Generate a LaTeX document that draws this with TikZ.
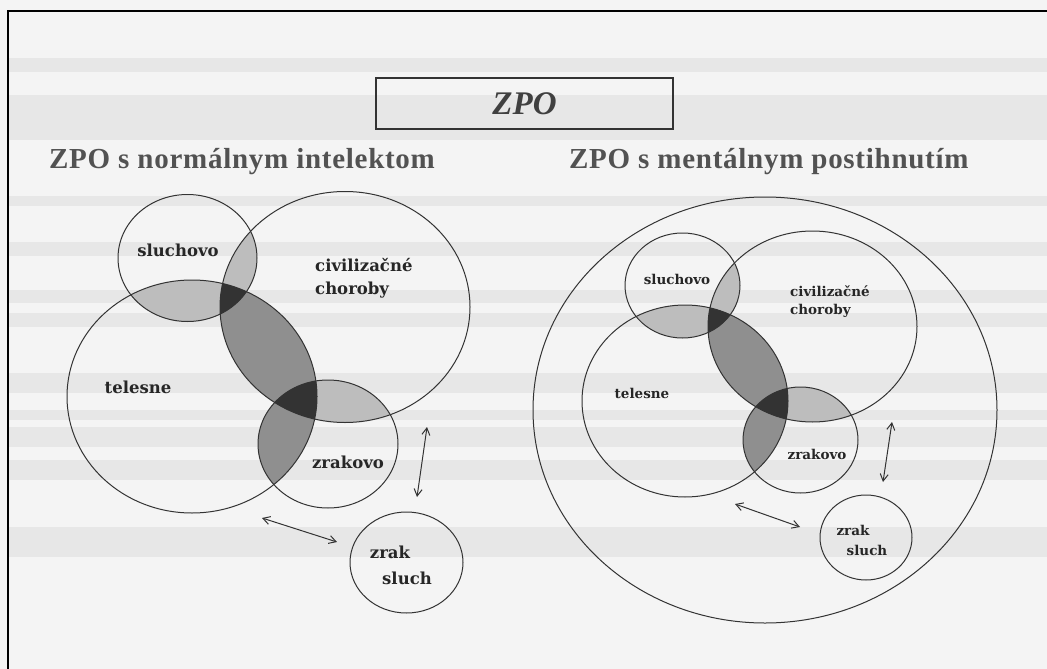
\documentclass[tikz,border=0pt]{standalone}
\usepackage{fontspec}
\setmainfont{Liberation Serif}
\newfontfamily\lblfont{DejaVu Serif}
\newfontfamily\headfont[LetterSpace=2.5]{Liberation Serif}
\usetikzlibrary{arrows.meta}
\definecolor{bgcol}{gray}{0.955}
\definecolor{bandcol}{gray}{0.905}
\definecolor{inkcol}{gray}{0.2}
\definecolor{lightsh}{gray}{0.74}
\definecolor{midsh}{gray}{0.56}
\definecolor{darksh}{gray}{0.2}
\tikzset{
  ring/.style={draw=inkcol, line width=1pt},
  biglbl/.style={font=\lblfont\bfseries\fontsize{16.5}{18}\selectfont, text=black!85, inner sep=0pt},
  smalllbl/.style={font=\lblfont\bfseries\fontsize{13.5}{15}\selectfont, text=black!85, inner sep=0pt},
  heading/.style={font=\headfont\bfseries\fontsize{29}{31}\selectfont, text=black!68, inner sep=0pt, anchor=base west},
  twoway/.style={draw=inkcol, line width=1pt, {Straight Barb[length=7pt,width=8pt]}-{Straight Barb[length=7pt,width=8pt]}}
}
% left diagram shapes
\newcommand\elLS{(187.5,258) ellipse [x radius=69.5, y radius=63.5]}
\newcommand\elLC{(345,307) ellipse [x radius=125, y radius=115.5]}
\newcommand\elLT{(192,396.5) ellipse [x radius=125, y radius=116.5]}
\newcommand\elLZ{(328,444) ellipse [x radius=70, y radius=64]}
\newcommand\elLX{(406.5,562.5) ellipse [x radius=56.5, y radius=50.5]}
% right diagram shapes
\newcommand\elRO{(765,410) ellipse [x radius=232, y radius=213]}
\newcommand\elRS{(682.5,285.5) ellipse [x radius=57.5, y radius=52.5]}
\newcommand\elRC{(812.5,326.5) ellipse [x radius=104.5, y radius=95.5]}
\newcommand\elRT{(685,401) ellipse [x radius=103, y radius=96]}
\newcommand\elRZ{(800.5,440) ellipse [x radius=57.5, y radius=53]}
\newcommand\elRX{(866,537.5) ellipse [x radius=46, y radius=42.5]}
\begin{document}
\begin{tikzpicture}[x=1pt,y=-1pt]
\useasboundingbox (0,0) rectangle (1047,669);
% background
\fill[bgcol] (0,0) rectangle (1047,669);
\foreach \a/\b in {58/72,95/140,196/206,242/256,290/303,313/327,373/393,410/420,427/447,460/480,527/557}
  \fill[bandcol] (9,\a) rectangle (1047,\b);
% frame (top and left)
\draw[black, line width=2.2pt] (1047,11) -- (8,11) -- (8,669);

% title box
\node[draw=inkcol, line width=1.4pt, minimum width=297pt, minimum height=51pt, inner sep=0pt,
      font=\bfseries\itshape\fontsize{33}{35}\selectfont, text=black!75] (title) at (524.5,103.5) {ZPO};

% headings
\node[heading] (hleft) at (49,168) {ZPO s normálnym intelektom};
\node[heading] (hright) at (569,168) {ZPO s mentálnym postihnutím};

% ---------- left diagram shading ----------
\begin{scope}\clip \elLS; \fill[lightsh] \elLT; \fill[lightsh] \elLC; \end{scope}
\begin{scope}\clip \elLC; \fill[lightsh] \elLZ; \end{scope}
\begin{scope}\clip \elLT; \fill[midsh] \elLC; \fill[midsh] \elLZ; \end{scope}
\begin{scope}\clip \elLT; \clip \elLC; \fill[darksh] \elLS; \fill[darksh] \elLZ; \end{scope}
% outlines
\draw[ring] \elLS; \draw[ring] \elLC; \draw[ring] \elLT; \draw[ring] \elLZ; \draw[ring] \elLX;
% labels
\node[biglbl] (lS) at (178,250) {sluchovo};
\node[biglbl, anchor=west] (lC1) at (315,265) {civilizačné};
\node[biglbl, anchor=west] (lC2) at (315,290) {choroby};
\node[biglbl] (lT) at (138,387) {telesne};
\node[biglbl] (lZ) at (348,462) {zrakovo};
\node[biglbl] (lX1) at (390,552) {zrak};
\node[biglbl] (lX2) at (407,578) {sluch};
% arrows
\coordinate (la1) at (427,427); \coordinate (la2) at (417,497);
\coordinate (lb1) at (262,518); \coordinate (lb2) at (337,542);
\draw[twoway] (la1) -- (la2);
\draw[twoway] (lb1) -- (lb2);

% ---------- right diagram shading ----------
\begin{scope}\clip \elRS; \fill[lightsh] \elRT; \fill[lightsh] \elRC; \end{scope}
\begin{scope}\clip \elRC; \fill[lightsh] \elRZ; \end{scope}
\begin{scope}\clip \elRT; \fill[midsh] \elRC; \fill[midsh] \elRZ; \end{scope}
\begin{scope}\clip \elRT; \clip \elRC; \fill[darksh] \elRS; \fill[darksh] \elRZ; \end{scope}
% outlines
\draw[ring] \elRO; \draw[ring] \elRS; \draw[ring] \elRC; \draw[ring] \elRT; \draw[ring] \elRZ; \draw[ring] \elRX;
% labels
\node[smalllbl] (rS) at (677,279) {sluchovo};
\node[smalllbl, anchor=west] (rC1) at (790,291) {civilizačné};
\node[smalllbl, anchor=west] (rC2) at (790,311) {choroby};
\node[smalllbl] (rT) at (642,393) {telesne};
\node[smalllbl] (rZ) at (817,454) {zrakovo};
\node[smalllbl] (rX1) at (853,530) {zrak};
\node[smalllbl] (rX2) at (867,550) {sluch};
% arrows
\coordinate (ra1) at (892,422); \coordinate (ra2) at (883,482);
\coordinate (rb1) at (735,504); \coordinate (rb2) at (800,527);
\draw[twoway] (ra1) -- (ra2);
\draw[twoway] (rb1) -- (rb2);
\end{tikzpicture}
\end{document}
